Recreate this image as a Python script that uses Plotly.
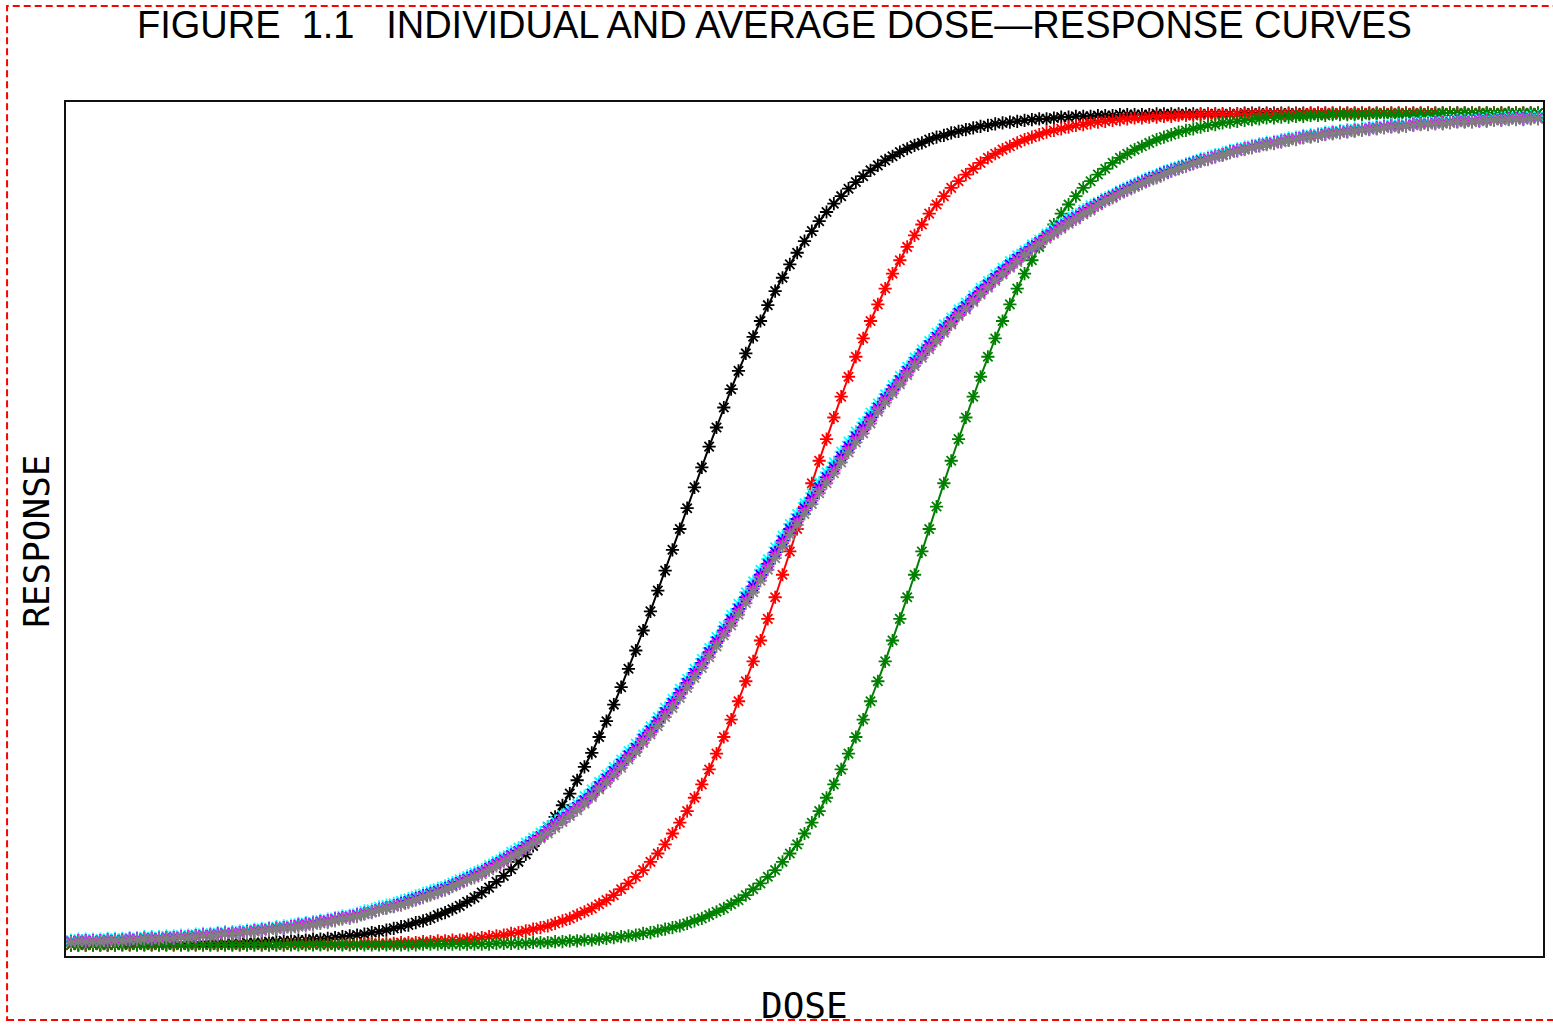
import plotly.graph_objects as go

# Dose grid shared by every curve
DOSE = [
    0.00, 0.05, 0.10, 0.15, 0.20, 0.25, 0.30, 0.35, 0.40, 0.45, 0.50, 0.55, 0.60, 0.65, 0.70, 0.75, 0.80, 0.85, 0.90, 0.95,
    1.00, 1.05, 1.10, 1.15, 1.20, 1.25, 1.30, 1.35, 1.40, 1.45, 1.50, 1.55, 1.60, 1.65, 1.70, 1.75, 1.80, 1.85, 1.90, 1.95,
    2.00, 2.05, 2.10, 2.15, 2.20, 2.25, 2.30, 2.35, 2.40, 2.45, 2.50, 2.55, 2.60, 2.65, 2.70, 2.75, 2.80, 2.85, 2.90, 2.95,
    3.00, 3.05, 3.10, 3.15, 3.20, 3.25, 3.30, 3.35, 3.40, 3.45, 3.50, 3.55, 3.60, 3.65, 3.70, 3.75, 3.80, 3.85, 3.90, 3.95,
    4.00, 4.05, 4.10, 4.15, 4.20, 4.25, 4.30, 4.35, 4.40, 4.45, 4.50, 4.55, 4.60, 4.65, 4.70, 4.75, 4.80, 4.85, 4.90, 4.95,
    5.00, 5.05, 5.10, 5.15, 5.20, 5.25, 5.30, 5.35, 5.40, 5.45, 5.50, 5.55, 5.60, 5.65, 5.70, 5.75, 5.80, 5.85, 5.90, 5.95,
    6.00, 6.05, 6.10, 6.15, 6.20, 6.25, 6.30, 6.35, 6.40, 6.45, 6.50, 6.55, 6.60, 6.65, 6.70, 6.75, 6.80, 6.85, 6.90, 6.95,
    7.00, 7.05, 7.10, 7.15, 7.20, 7.25, 7.30, 7.35, 7.40, 7.45, 7.50, 7.55, 7.60, 7.65, 7.70, 7.75, 7.80, 7.85, 7.90, 7.95,
    8.00, 8.05, 8.10, 8.15, 8.20, 8.25, 8.30, 8.35, 8.40, 8.45, 8.50, 8.55, 8.60, 8.65, 8.70, 8.75, 8.80, 8.85, 8.90, 8.95,
    9.00, 9.05, 9.10, 9.15, 9.20, 9.25, 9.30, 9.35, 9.40, 9.45, 9.50, 9.55, 9.60, 9.65, 9.70, 9.75, 9.80, 9.85, 9.90, 9.95,
    10.00,
]

# Individual response curves (percent of maximum response)
RESP_SUBJECT_1 = [
    0.0, 0.0, 0.0, 0.0, 0.0, 0.0, 0.0, 0.1, 0.1, 0.1,
    0.1, 0.1, 0.1, 0.1, 0.1, 0.1, 0.1, 0.1, 0.2, 0.2,
    0.2, 0.2, 0.2, 0.2, 0.3, 0.3, 0.3, 0.4, 0.4, 0.5,
    0.5, 0.6, 0.6, 0.7, 0.7, 0.8, 0.9, 1.0, 1.1, 1.2,
    1.3, 1.5, 1.6, 1.8, 2.0, 2.2, 2.4, 2.7, 2.9, 3.2,
    3.6, 3.9, 4.3, 4.7, 5.2, 5.7, 6.3, 6.9, 7.6, 8.3,
    9.1, 10.0, 10.9, 11.9, 13.0, 14.2, 15.4, 16.8, 18.2, 19.8,
    21.4, 23.1, 25.0, 26.9, 28.9, 31.0, 33.2, 35.4, 37.8, 40.1,
    42.6, 45.0, 47.5, 50.0, 52.5, 55.0, 57.4, 59.9, 62.2, 64.6,
    66.8, 69.0, 71.1, 73.1, 75.0, 76.9, 78.6, 80.2, 81.8, 83.2,
    84.6, 85.8, 87.0, 88.1, 89.1, 90.0, 90.9, 91.7, 92.4, 93.1,
    93.7, 94.3, 94.8, 95.3, 95.7, 96.1, 96.4, 96.8, 97.1, 97.3,
    97.6, 97.8, 98.0, 98.2, 98.4, 98.5, 98.7, 98.8, 98.9, 99.0,
    99.1, 99.2, 99.3, 99.3, 99.4, 99.5, 99.5, 99.6, 99.6, 99.6,
    99.7, 99.7, 99.7, 99.8, 99.8, 99.8, 99.8, 99.8, 99.9, 99.9,
    99.9, 99.9, 99.9, 99.9, 99.9, 99.9, 99.9, 99.9, 99.9, 99.9,
    100.0, 100.0, 100.0, 100.0, 100.0, 100.0, 100.0, 100.0, 100.0, 100.0,
    100.0, 100.0, 100.0, 100.0, 100.0, 100.0, 100.0, 100.0, 100.0, 100.0,
    100.0, 100.0, 100.0, 100.0, 100.0, 100.0, 100.0, 100.0, 100.0, 100.0,
    100.0, 100.0, 100.0, 100.0, 100.0, 100.0, 100.0, 100.0, 100.0, 100.0,
    100.0,
]

RESP_SUBJECT_2 = [
    0.0, 0.0, 0.0, 0.0, 0.0, 0.0, 0.0, 0.0, 0.0, 0.0,
    0.0, 0.0, 0.0, 0.0, 0.0, 0.0, 0.0, 0.0, 0.0, 0.0,
    0.0, 0.0, 0.0, 0.0, 0.0, 0.0, 0.0, 0.0, 0.0, 0.0,
    0.1, 0.1, 0.1, 0.1, 0.1, 0.1, 0.1, 0.1, 0.1, 0.1,
    0.2, 0.2, 0.2, 0.2, 0.2, 0.3, 0.3, 0.3, 0.4, 0.4,
    0.5, 0.5, 0.6, 0.6, 0.7, 0.8, 0.9, 1.0, 1.1, 1.2,
    1.4, 1.5, 1.7, 1.9, 2.1, 2.3, 2.6, 2.9, 3.2, 3.6,
    4.0, 4.4, 4.9, 5.4, 6.0, 6.7, 7.4, 8.2, 9.0, 10.0,
    11.0, 12.1, 13.4, 14.7, 16.1, 17.7, 19.3, 21.1, 23.0, 25.0,
    27.1, 29.3, 31.7, 34.1, 36.6, 39.2, 41.8, 44.5, 47.3, 50.0,
    52.7, 55.5, 58.2, 60.8, 63.4, 65.9, 68.3, 70.7, 72.9, 75.0,
    77.0, 78.9, 80.7, 82.3, 83.9, 85.3, 86.6, 87.9, 89.0, 90.0,
    91.0, 91.8, 92.6, 93.3, 94.0, 94.6, 95.1, 95.6, 96.0, 96.4,
    96.8, 97.1, 97.4, 97.7, 97.9, 98.1, 98.3, 98.5, 98.6, 98.8,
    98.9, 99.0, 99.1, 99.2, 99.3, 99.4, 99.4, 99.5, 99.5, 99.6,
    99.6, 99.7, 99.7, 99.7, 99.8, 99.8, 99.8, 99.8, 99.8, 99.9,
    99.9, 99.9, 99.9, 99.9, 99.9, 99.9, 99.9, 99.9, 99.9, 100.0,
    100.0, 100.0, 100.0, 100.0, 100.0, 100.0, 100.0, 100.0, 100.0, 100.0,
    100.0, 100.0, 100.0, 100.0, 100.0, 100.0, 100.0, 100.0, 100.0, 100.0,
    100.0, 100.0, 100.0, 100.0, 100.0, 100.0, 100.0, 100.0, 100.0, 100.0,
    100.0,
]

RESP_SUBJECT_3 = [
    0.0, 0.0, 0.0, 0.0, 0.0, 0.0, 0.0, 0.0, 0.0, 0.0,
    0.0, 0.0, 0.0, 0.0, 0.0, 0.0, 0.0, 0.0, 0.0, 0.0,
    0.0, 0.0, 0.0, 0.0, 0.0, 0.0, 0.0, 0.0, 0.0, 0.0,
    0.0, 0.0, 0.0, 0.0, 0.0, 0.0, 0.0, 0.0, 0.0, 0.0,
    0.0, 0.0, 0.0, 0.0, 0.0, 0.0, 0.0, 0.0, 0.1, 0.1,
    0.1, 0.1, 0.1, 0.1, 0.1, 0.1, 0.1, 0.1, 0.2, 0.2,
    0.2, 0.2, 0.2, 0.3, 0.3, 0.3, 0.4, 0.4, 0.5, 0.5,
    0.6, 0.6, 0.7, 0.8, 0.9, 1.0, 1.1, 1.2, 1.4, 1.5,
    1.7, 1.9, 2.1, 2.3, 2.6, 2.9, 3.2, 3.6, 4.0, 4.4,
    4.9, 5.4, 6.0, 6.7, 7.4, 8.2, 9.0, 10.0, 11.0, 12.1,
    13.4, 14.7, 16.1, 17.7, 19.3, 21.1, 23.0, 25.0, 27.1, 29.3,
    31.7, 34.1, 36.6, 39.2, 41.8, 44.5, 47.3, 50.0, 52.7, 55.5,
    58.2, 60.8, 63.4, 65.9, 68.3, 70.7, 72.9, 75.0, 77.0, 78.9,
    80.7, 82.3, 83.9, 85.3, 86.6, 87.9, 89.0, 90.0, 91.0, 91.8,
    92.6, 93.3, 94.0, 94.6, 95.1, 95.6, 96.0, 96.4, 96.8, 97.1,
    97.4, 97.7, 97.9, 98.1, 98.3, 98.5, 98.6, 98.8, 98.9, 99.0,
    99.1, 99.2, 99.3, 99.4, 99.4, 99.5, 99.5, 99.6, 99.6, 99.7,
    99.7, 99.7, 99.8, 99.8, 99.8, 99.8, 99.8, 99.9, 99.9, 99.9,
    99.9, 99.9, 99.9, 99.9, 99.9, 99.9, 99.9, 100.0, 100.0, 100.0,
    100.0, 100.0, 100.0, 100.0, 100.0, 100.0, 100.0, 100.0, 100.0, 100.0,
    100.0,
]

# Average curves
RESP_AVG_CYAN = [
    0.6, 0.7, 0.7, 0.7, 0.7, 0.8, 0.8, 0.8, 0.9, 0.9,
    1.0, 1.0, 1.0, 1.1, 1.1, 1.2, 1.2, 1.3, 1.4, 1.4,
    1.5, 1.6, 1.6, 1.7, 1.8, 1.9, 2.0, 2.1, 2.2, 2.3,
    2.4, 2.6, 2.7, 2.8, 3.0, 3.1, 3.3, 3.5, 3.6, 3.8,
    4.1, 4.3, 4.6, 4.8, 5.0, 5.3, 5.6, 5.9, 6.2, 6.5,
    6.8, 7.1, 7.5, 7.9, 8.3, 8.7, 9.1, 9.6, 10.1, 10.6,
    11.2, 11.7, 12.3, 12.9, 13.5, 14.2, 14.9, 15.6, 16.3, 17.0,
    17.9, 18.7, 19.6, 20.5, 21.4, 22.3, 23.3, 24.2, 25.3, 26.3,
    27.4, 28.5, 29.6, 30.8, 32.0, 33.2, 34.4, 35.7, 37.0, 38.3,
    39.7, 41.0, 42.4, 43.7, 45.1, 46.4, 47.8, 49.2, 50.6, 51.8,
    53.1, 54.3, 55.6, 56.8, 58.0, 59.3, 60.5, 61.7, 62.8, 64.0,
    65.1, 66.2, 67.3, 68.4, 69.5, 70.6, 71.6, 72.6, 73.6, 74.6,
    75.4, 76.4, 77.2, 78.1, 79.0, 79.8, 80.6, 81.4, 82.2, 82.9,
    83.5, 84.2, 84.8, 85.5, 86.1, 86.7, 87.3, 87.8, 88.4, 88.9,
    89.3, 89.8, 90.2, 90.7, 91.1, 91.5, 91.9, 92.3, 92.6, 93.0,
    93.3, 93.6, 93.9, 94.2, 94.5, 94.7, 95.0, 95.2, 95.5, 95.7,
    95.9, 96.1, 96.3, 96.5, 96.6, 96.8, 97.0, 97.1, 97.3, 97.4,
    97.5, 97.7, 97.8, 97.9, 98.0, 98.1, 98.2, 98.3, 98.4, 98.5,
    98.6, 98.6, 98.7, 98.8, 98.9, 98.9, 99.0, 99.0, 99.1, 99.2,
    99.2, 99.2, 99.3, 99.3, 99.4, 99.4, 99.5, 99.5, 99.5, 99.6,
    99.6,
]

RESP_AVG_BLUE = [
    0.4, 0.5, 0.5, 0.5, 0.5, 0.6, 0.6, 0.6, 0.7, 0.7,
    0.8, 0.8, 0.8, 0.9, 0.9, 1.0, 1.0, 1.1, 1.2, 1.2,
    1.3, 1.4, 1.4, 1.5, 1.6, 1.7, 1.8, 1.9, 2.0, 2.1,
    2.2, 2.4, 2.5, 2.6, 2.8, 2.9, 3.1, 3.3, 3.4, 3.6,
    3.8, 4.0, 4.3, 4.5, 4.7, 5.0, 5.3, 5.6, 5.9, 6.2,
    6.5, 6.8, 7.2, 7.6, 8.0, 8.4, 8.8, 9.3, 9.8, 10.3,
    10.8, 11.3, 11.9, 12.5, 13.1, 13.8, 14.5, 15.2, 15.9, 16.6,
    17.4, 18.2, 19.1, 20.0, 20.9, 21.8, 22.8, 23.7, 24.8, 25.8,
    26.9, 28.0, 29.1, 30.3, 31.5, 32.7, 33.9, 35.2, 36.5, 37.8,
    39.1, 40.4, 41.8, 43.1, 44.5, 45.8, 47.2, 48.6, 50.0, 51.2,
    52.5, 53.7, 55.0, 56.2, 57.4, 58.7, 59.9, 61.1, 62.2, 63.4,
    64.6, 65.7, 66.8, 67.9, 69.0, 70.1, 71.1, 72.1, 73.1, 74.1,
    75.0, 76.0, 76.8, 77.7, 78.6, 79.4, 80.2, 81.0, 81.8, 82.5,
    83.2, 83.9, 84.5, 85.2, 85.8, 86.4, 87.0, 87.5, 88.1, 88.6,
    89.1, 89.6, 90.0, 90.5, 90.9, 91.3, 91.7, 92.1, 92.4, 92.8,
    93.1, 93.4, 93.7, 94.0, 94.3, 94.5, 94.8, 95.0, 95.3, 95.5,
    95.7, 95.9, 96.1, 96.3, 96.4, 96.6, 96.8, 96.9, 97.1, 97.2,
    97.3, 97.5, 97.6, 97.7, 97.8, 97.9, 98.0, 98.1, 98.2, 98.3,
    98.4, 98.4, 98.5, 98.6, 98.7, 98.7, 98.8, 98.8, 98.9, 99.0,
    99.0, 99.0, 99.1, 99.1, 99.2, 99.2, 99.3, 99.3, 99.3, 99.4,
    99.4,
]

RESP_AVG_MAGENTA = [
    0.4, 0.5, 0.5, 0.5, 0.5, 0.6, 0.6, 0.6, 0.7, 0.7,
    0.8, 0.8, 0.8, 0.9, 0.9, 1.0, 1.0, 1.1, 1.2, 1.2,
    1.3, 1.4, 1.4, 1.5, 1.6, 1.7, 1.8, 1.9, 2.0, 2.1,
    2.2, 2.4, 2.5, 2.6, 2.8, 2.9, 3.1, 3.3, 3.4, 3.6,
    3.8, 4.0, 4.3, 4.5, 4.7, 4.9, 5.2, 5.5, 5.8, 6.1,
    6.4, 6.7, 7.1, 7.5, 7.9, 8.3, 8.7, 9.2, 9.7, 10.2,
    10.7, 11.2, 11.8, 12.4, 13.0, 13.7, 14.4, 15.1, 15.8, 16.5,
    17.2, 18.0, 18.9, 19.8, 20.7, 21.6, 22.6, 23.5, 24.6, 25.6,
    26.7, 27.8, 28.9, 30.1, 31.3, 32.5, 33.7, 35.0, 36.3, 37.6,
    38.8, 40.1, 41.5, 42.8, 44.2, 45.5, 46.9, 48.3, 49.7, 50.9,
    52.2, 53.4, 54.7, 55.9, 57.1, 58.4, 59.6, 60.8, 61.9, 63.1,
    64.4, 65.5, 66.6, 67.7, 68.8, 69.9, 70.9, 71.9, 72.9, 73.9,
    74.8, 75.8, 76.6, 77.5, 78.4, 79.2, 80.0, 80.8, 81.6, 82.3,
    83.1, 83.8, 84.4, 85.1, 85.7, 86.3, 86.9, 87.4, 88.0, 88.5,
    89.0, 89.5, 89.9, 90.4, 90.8, 91.2, 91.6, 92.0, 92.3, 92.7,
    93.0, 93.3, 93.6, 93.9, 94.2, 94.5, 94.8, 95.0, 95.3, 95.5,
    95.7, 95.9, 96.1, 96.3, 96.4, 96.6, 96.8, 96.9, 97.1, 97.2,
    97.3, 97.5, 97.6, 97.7, 97.8, 97.9, 98.0, 98.1, 98.2, 98.3,
    98.4, 98.4, 98.5, 98.6, 98.7, 98.7, 98.8, 98.8, 98.9, 99.0,
    99.0, 99.0, 99.1, 99.1, 99.2, 99.2, 99.3, 99.3, 99.3, 99.4,
    99.4,
]

RESP_AVG_GRAY = [
    0.3, 0.4, 0.4, 0.4, 0.4, 0.5, 0.5, 0.5, 0.6, 0.6,
    0.7, 0.7, 0.7, 0.8, 0.8, 0.9, 0.9, 1.0, 1.1, 1.1,
    1.2, 1.3, 1.3, 1.4, 1.5, 1.6, 1.7, 1.8, 1.9, 2.0,
    2.0, 2.2, 2.3, 2.4, 2.6, 2.7, 2.9, 3.1, 3.2, 3.4,
    3.7, 3.9, 4.2, 4.4, 4.6, 4.8, 5.1, 5.4, 5.7, 6.0,
    6.3, 6.6, 7.0, 7.4, 7.8, 8.1, 8.5, 9.0, 9.5, 10.0,
    10.5, 11.0, 11.6, 12.2, 12.8, 13.4, 14.1, 14.8, 15.5, 16.2,
    17.0, 17.8, 18.7, 19.5, 20.4, 21.3, 22.3, 23.2, 24.3, 25.3,
    26.3, 27.4, 28.5, 29.7, 30.9, 32.1, 33.3, 34.6, 35.9, 37.2,
    38.4, 39.7, 41.1, 42.4, 43.8, 45.1, 46.5, 47.9, 49.3, 50.5,
    51.8, 53.0, 54.3, 55.5, 56.7, 58.0, 59.2, 60.4, 61.5, 62.7,
    64.1, 65.2, 66.3, 67.4, 68.5, 69.6, 70.6, 71.6, 72.6, 73.6,
    74.6, 75.6, 76.4, 77.3, 78.2, 79.0, 79.8, 80.6, 81.4, 82.1,
    82.9, 83.6, 84.2, 84.9, 85.5, 86.1, 86.7, 87.2, 87.8, 88.3,
    88.9, 89.4, 89.8, 90.3, 90.7, 91.1, 91.5, 91.9, 92.2, 92.6,
    93.0, 93.3, 93.6, 93.9, 94.2, 94.4, 94.7, 94.9, 95.2, 95.4,
    95.6, 95.8, 96.0, 96.2, 96.3, 96.5, 96.7, 96.8, 97.0, 97.1,
    97.2, 97.4, 97.5, 97.6, 97.7, 97.8, 97.9, 98.0, 98.1, 98.2,
    98.3, 98.3, 98.4, 98.5, 98.6, 98.6, 98.7, 98.7, 98.8, 98.9,
    98.9, 98.9, 99.0, 99.0, 99.1, 99.1, 99.2, 99.2, 99.2, 99.3,
    99.3,
]

SERIES = [
    ("Subject 1", RESP_SUBJECT_1, "#000000"),
    ("Subject 2", RESP_SUBJECT_2, "#ff0000"),
    ("Subject 3", RESP_SUBJECT_3, "#008000"),
    ("Average 1", RESP_AVG_CYAN, "#00ffff"),
    ("Average 2", RESP_AVG_BLUE, "#0000ff"),
    ("Average 3", RESP_AVG_MAGENTA, "#ff00ff"),
    ("Average 4", RESP_AVG_GRAY, "#808080"),
]

TITLE = "FIGURE\u00a0 1.1\u00a0 \u00a0INDIVIDUAL AND AVERAGE DOSE\u2014RESPONSE CURVES"
X_LABEL = "DOSE"
Y_LABEL = "RESPONSE"

fig = go.Figure()
for name, values, color in SERIES:
    fig.add_trace(go.Scatter(
        x=DOSE, y=values, name=name, mode="lines+markers",
        line=dict(color=color, width=2),
        marker=dict(symbol="asterisk", size=11, color=color,
                    line=dict(color=color, width=1.8)),
    ))

axis_common = dict(showgrid=False, zeroline=False, showticklabels=False, ticks="",
                   showline=True, mirror=True, linecolor="#111111", linewidth=1.5)

fig.update_layout(
    width=1553, height=1029,
    margin=dict(l=66, r=8, t=102, b=73),
    paper_bgcolor="white", plot_bgcolor="white",
    showlegend=False,
    xaxis=dict(range=[-0.034, 10.034], **axis_common),
    yaxis=dict(range=[-1.32, 101.32], **axis_common),
    annotations=[
        dict(text=TITLE, xref="paper", yref="paper", x=0.4794, y=1.117,
             xanchor="center", yanchor="top", showarrow=False,
             font=dict(family="Liberation Sans, Arial, sans-serif", size=38, color="black")),
        dict(text=X_LABEL, xref="paper", yref="paper", x=0.5, y=-0.058,
             xanchor="center", yanchor="middle", showarrow=False,
             font=dict(family="DejaVu Sans Mono, monospace", size=36, color="black")),
        dict(text=Y_LABEL, xref="paper", yref="paper", x=-0.0196, y=0.485,
             xanchor="center", yanchor="middle", showarrow=False, textangle=-90,
             font=dict(family="DejaVu Sans Mono, monospace", size=36, color="black")),
    ],
    shapes=[
        dict(type="rect", xref="paper", yref="paper",
             x0=-0.0399, x1=1.0101, y0=-0.0749, y1=1.1124,
             line=dict(color="#ff0000", width=2, dash="7px,4px"), layer="above"),
    ],
)

fig.write_html("out.html", config={"displayModeBar": False})
